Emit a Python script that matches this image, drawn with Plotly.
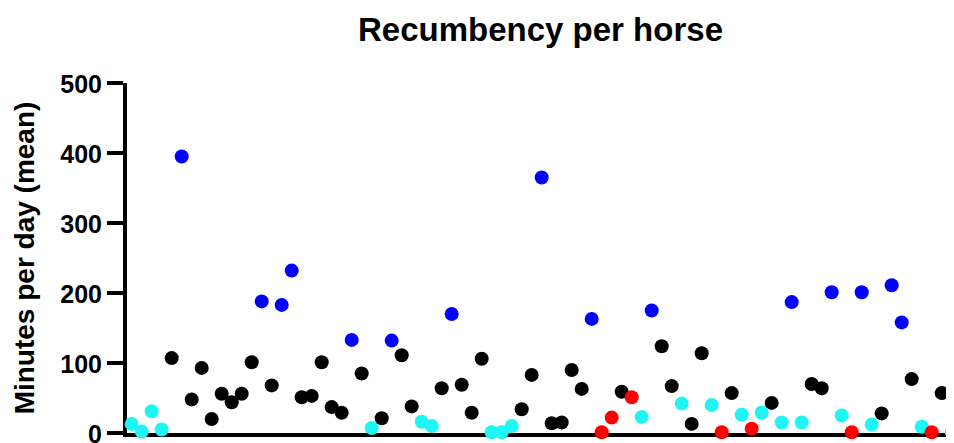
import plotly.graph_objects as go

# horse number along the x axis (one point per horse)
horses = list(range(1, 84))

# mean recumbency, minutes per day
minutes = [
    13, 2, 31, 5, 107, 395, 48, 93, 20, 56,
    44, 56, 101, 188, 68, 183, 232, 51, 53, 101,
    37, 29, 133, 85, 7, 21, 132, 111, 38, 16,
    10, 64, 170, 69, 29, 106, 1, 1, 10, 34,
    83, 365, 14, 15, 90, 63, 163, 1, 22, 59,
    51, 23, 175, 124, 67, 42, 13, 114, 40, 1,
    57, 26, 6, 29, 43, 15, 187, 15, 70, 64,
    201, 25, 1, 201, 12, 28, 211, 158, 77, 9,
    1, 57, 1,
]

# colour group of each horse: k = black, b = blue, c = cyan, r = red
groups = list(
    "cccckbkkkk"
    "kkkbkbbkkk"
    "kkbkckbkkc"
    "ckbkkkccck"
    "kbkkkkbrrk"
    "rcbkkckkcr"
    "kcrckcbckk"
    "bcrbckbbkc"
    "rkc"
)

palette = {"k": "#000000", "b": "#0000ff", "c": "#1ef5f5", "r": "#ff0000"}

y_ticks = [0, 100, 200, 300, 400, 500]

fig = go.Figure(
    go.Scatter(
        x=horses,
        y=minutes,
        mode="markers",
        marker=dict(size=14, color=[palette[g] for g in groups], line_width=0),
        cliponaxis=False,
        showlegend=False,
    )
)

# the page body adds an 8px offset, so margins are shifted to compensate
fig.update_layout(
    width=954,
    height=443,
    margin=dict(l=119, r=8, t=75, b=18, autoexpand=False),
    paper_bgcolor="white",
    plot_bgcolor="white",
    font=dict(family="Liberation Sans, Arial", color="black"),
    title=dict(
        text="<b>Recumbency per horse</b>",
        font=dict(size=33),
        x=0.5,
        xref="paper",
        xanchor="center",
        y=1 - 21 / 443,
        yref="container",
        yanchor="middle",
    ),
    xaxis=dict(
        range=[0.53, 83.23],
        showline=True,
        linewidth=4,
        linecolor="black",
        showgrid=False,
        zeroline=False,
        showticklabels=False,
        ticks="",
        layer="below traces",
        automargin=False,
    ),
    yaxis=dict(
        range=[0, 500],
        tickvals=y_ticks,
        ticktext=[f"<b>{v}</b>" for v in y_ticks],
        tickfont=dict(size=25),
        ticks="outside",
        ticklen=16,
        tickwidth=4,
        tickcolor="black",
        ticklabelshift=1,
        showline=True,
        linewidth=4,
        linecolor="black",
        showgrid=False,
        zeroline=False,
        layer="below traces",
        automargin=False,
        title=dict(
            text="<b>Minutes per day (mean)</b>",
            font=dict(size=28),
            standoff=18,
        ),
    ),
)

fig.write_html("out.html")
